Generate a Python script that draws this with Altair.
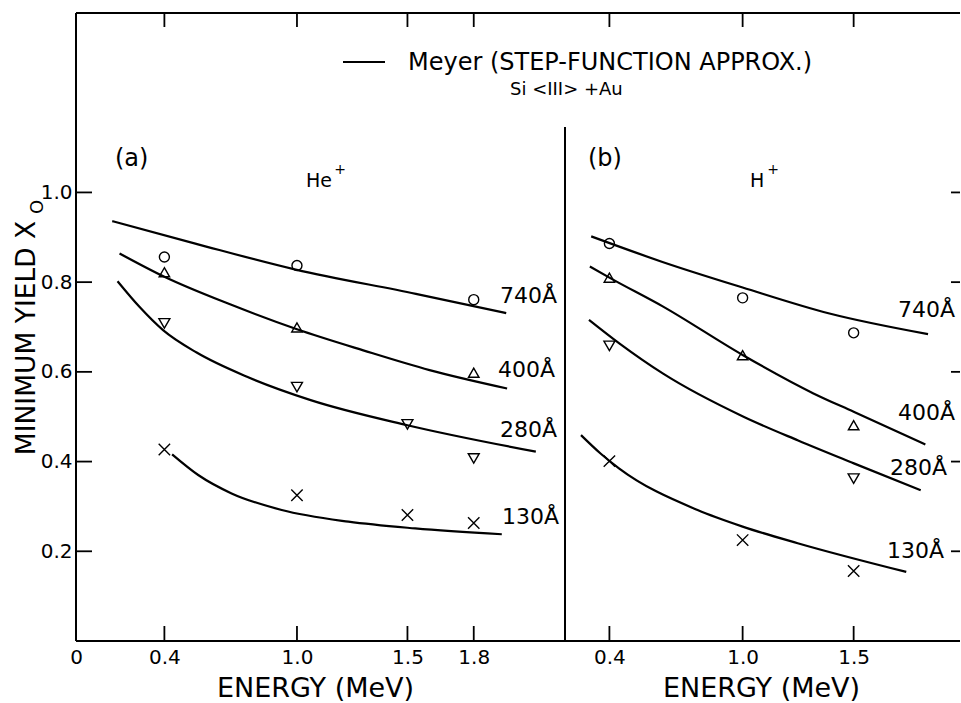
import altair as alt
import pandas as pd

FONT = "DejaVu Sans"

# ---- Panel (a): He+ ------------------------------------------------------
# measured minimum yield (symbols), one list per film thickness
he_740_e = [0.4, 1.0, 1.8]
he_740_y = [0.856, 0.837, 0.761]
he_400_e = [0.4, 1.0, 1.8]
he_400_y = [0.822, 0.699, 0.598]
he_280_e = [0.4, 1.0, 1.5, 1.8]
he_280_y = [0.708, 0.566, 0.483, 0.407]
he_130_e = [0.4, 1.0, 1.5, 1.8]
he_130_y = [0.427, 0.325, 0.281, 0.263]

# Meyer step-function calculation (curves)
he_740_ce = [0.164, 0.54, 0.994, 1.538, 1.947]
he_740_cy = [0.936, 0.886, 0.828, 0.774, 0.731]
he_400_ce = [0.197, 0.4, 0.7, 1.0, 1.3, 1.6, 1.951]
he_400_cy = [0.864, 0.812, 0.750, 0.695, 0.648, 0.604, 0.563]
he_280_ce = [0.188, 0.287, 0.394, 0.546, 0.774, 1.062, 1.5, 2.081]
he_280_cy = [0.802, 0.745, 0.693, 0.643, 0.589, 0.537, 0.481, 0.422]
he_130_ce = [0.435, 0.553, 0.704, 0.931, 1.233, 1.535, 1.927]
he_130_cy = [0.416, 0.370, 0.329, 0.292, 0.266, 0.251, 0.238]

# ---- Panel (b): H+ -------------------------------------------------------
h_740_e = [0.4, 1.0, 1.5]
h_740_y = [0.886, 0.765, 0.687]
h_400_e = [0.4, 1.0, 1.5]
h_400_y = [0.810, 0.637, 0.481]
h_280_e = [0.4, 1.5]
h_280_y = [0.658, 0.362]
h_130_e = [0.4, 1.0, 1.5]
h_130_y = [0.401, 0.225, 0.156]

h_740_ce = [0.318, 0.639, 1.0, 1.391, 1.835]
h_740_cy = [0.902, 0.845, 0.788, 0.730, 0.684]
h_400_ce = [0.312, 0.404, 0.640, 1.002, 1.319, 1.50, 1.823]
h_400_cy = [0.835, 0.809, 0.746, 0.637, 0.552, 0.511, 0.438]
h_280_ce = [0.308, 0.446, 0.642, 1.004, 1.25, 1.501, 1.802]
h_280_cy = [0.716, 0.663, 0.596, 0.500, 0.447, 0.396, 0.336]
h_130_ce = [0.272, 0.36, 0.443, 0.797, 1.0, 1.248, 1.737]
h_130_cy = [0.459, 0.418, 0.385, 0.292, 0.255, 0.218, 0.154]

# ---- axes ----------------------------------------------------------------
thicknesses = ["740", "400", "280", "130"]
y_ticks = [0.2, 0.4, 0.6, 0.8, 1.0]
he_ticks = [0, 0.4, 1.0, 1.5, 1.8]
h_ticks = [0.4, 1.0, 1.5]
he_domain = [0.0, 2.213]
h_domain = [0.2, 1.979]
y_domain = [0.0, 1.4]

W, H = 884, 628
SPLIT = 489  # x where panel (b) begins

shapes = ["circle", "triangle-up", "triangle-down", "M-1,-1L1,1M-1,1L1,-1"]
sizes = [100, 130, 130, 70]


def table(pairs):
    frames = []
    for name, e, y in pairs:
        frames.append(pd.DataFrame({"series": name, "e": e, "y": y}))
    return pd.concat(frames, ignore_index=True)


he_pts = table([("740", he_740_e, he_740_y), ("400", he_400_e, he_400_y),
                ("280", he_280_e, he_280_y), ("130", he_130_e, he_130_y)])
he_crv = table([("740", he_740_ce, he_740_cy), ("400", he_400_ce, he_400_cy),
                ("280", he_280_ce, he_280_cy), ("130", he_130_ce, he_130_cy)])
h_pts = table([("740", h_740_e, h_740_y), ("400", h_400_e, h_400_y),
               ("280", h_280_e, h_280_y), ("130", h_130_e, h_130_y)])
h_crv = table([("740", h_740_ce, h_740_cy), ("400", h_400_ce, h_400_cy),
               ("280", h_280_ce, h_280_cy), ("130", h_130_ce, h_130_cy)])

yscale = alt.Scale(domain=y_domain, nice=False, zero=False)
yaxis = alt.Axis(values=y_ticks, format=".1f", ticks=False, tickSize=0,
                 domain=False, grid=False, labelFont=FONT, labelFontSize=20,
                 labelColor="black", labelPadding=4, title=None)
Y = alt.Y("y:Q", scale=yscale, axis=yaxis)


def x_axis(values, title_x):
    return alt.Axis(
        values=values, orient="bottom",
        labelExpr="datum.value == 0 ? '0' : format(datum.value, '.1f')",
        ticks=False, tickSize=0, domain=False, grid=False,
        labelFont=FONT, labelFontSize=20, labelColor="black",
        labelPadding=22, labelBaseline="alphabetic",
        labelFlush=False, labelOverlap=False,
        title="ENERGY (MeV)", titleFont=FONT, titleFontSize=27,
        titleFontWeight="normal", titleColor="black",
        titleBaseline="alphabetic", titleX=title_x, titleY=55)


def panel(pts, crv, ticks, domain, rng, title_x):
    X = alt.X("e:Q", scale=alt.Scale(domain=domain, range=rng, nice=False, zero=False),
              axis=x_axis(ticks, title_x))
    lines = alt.Chart(crv).mark_line(color="black", strokeWidth=2.2,
                                     interpolate="monotone").encode(
        x=X, y=Y, detail="series:N")
    marks = alt.Chart(pts).mark_point(filled=False, color="black",
                                      strokeWidth=1.4, opacity=1).encode(
        x=X, y=Y,
        shape=alt.Shape("series:N", scale=alt.Scale(domain=thicknesses, range=shapes), legend=None),
        size=alt.Size("series:N", scale=alt.Scale(domain=thicknesses, range=sizes), legend=None))
    tick_df = pd.DataFrame({"e": [t for t in ticks if t > 0]})
    bottom = alt.Chart(tick_df).mark_rule(color="black", strokeWidth=1.8).encode(
        x=X, y=alt.value(H), y2=alt.value(H - 15))
    top = alt.Chart(tick_df).mark_rule(color="black", strokeWidth=1.8).encode(
        x=X, y=alt.value(0), y2=alt.value(14))
    return alt.layer(lines, marks, bottom, top)


left = panel(he_pts, he_crv, he_ticks, he_domain, [0, SPLIT], 239)
right = panel(h_pts, h_crv, h_ticks, h_domain, [SPLIT, W], 685)

one = pd.DataFrame({"k": [0]})
ytick_df = pd.DataFrame({"y": y_ticks})

ytick_left = alt.Chart(ytick_df).mark_rule(color="black", strokeWidth=1.8).encode(
    y=Y, x=alt.value(0), x2=alt.value(16))
ytick_right = alt.Chart(ytick_df).mark_rule(color="black", strokeWidth=1.8).encode(
    y=Y, x=alt.value(W - 9), x2=alt.value(W))


def rule(x, x2, y, y2, width=2.0):
    return alt.Chart(one).mark_rule(color="black", strokeWidth=width).encode(
        x=alt.value(x), x2=alt.value(x2), y=alt.value(y), y2=alt.value(y2))


frame = [
    rule(0, W, 0, 0),          # top edge
    rule(0, W, H, H),          # bottom edge
    rule(0, 0, 0, H),          # left edge
    rule(SPLIT, SPLIT, 114, H),  # divider between (a) and (b)
    rule(267, 309, 49, 49),    # legend sample line
]


def text(s, x, y, size, align="left", baseline="alphabetic", angle=0):
    return alt.Chart(one).mark_text(
        text=s, font=FONT, fontSize=size, align=align, baseline=baseline,
        angle=angle, color="black").encode(x=alt.value(x), y=alt.value(y))


labels = [
    # legend
    text("Meyer (STEP-FUNCTION APPROX.)", 332, 57, 24),
    text("Si <III> +Au", 434, 82, 18),
    # panel captions
    text("(a)", 39, 153, 24),
    text("He", 230, 174, 19),
    text("+", 264, 157, 14, align="center", baseline="middle"),
    text("(b)", 512, 153, 24),
    text("H", 674, 174, 19),
    text("+", 697, 157, 14, align="center", baseline="middle"),
    # curve labels, panel (a)
    text("740Å", 424, 290, 22),
    text("400Å", 422, 364, 22),
    text("280Å", 424, 424, 22),
    text("130Å", 426, 511, 22),
    # curve labels, panel (b)
    text("740Å", 822, 304, 22),
    text("400Å", 822, 407, 22),
    text("280Å", 814, 462, 22),
    text("130Å", 811, 545, 22),
    # y-axis title
    text("MINIMUM YIELD X", -41, 325, 26.5, align="center", angle=270),
    text("O", -38, 194, 18, align="center", baseline="middle", angle=270),
]

chart = alt.layer(
    left, right, ytick_left, ytick_right, *frame, *labels
).resolve_scale(
    x="independent"
).resolve_axis(
    x="independent"
).properties(
    width=W, height=H,
    autosize=alt.AutoSizeParams(type="none"),
    padding={"left": 76, "top": 13, "right": 1, "bottom": 62},
    background="white",
).configure_view(strokeWidth=0)

chart.save("out.html", embed_options={"renderer": "svg", "actions": False})
